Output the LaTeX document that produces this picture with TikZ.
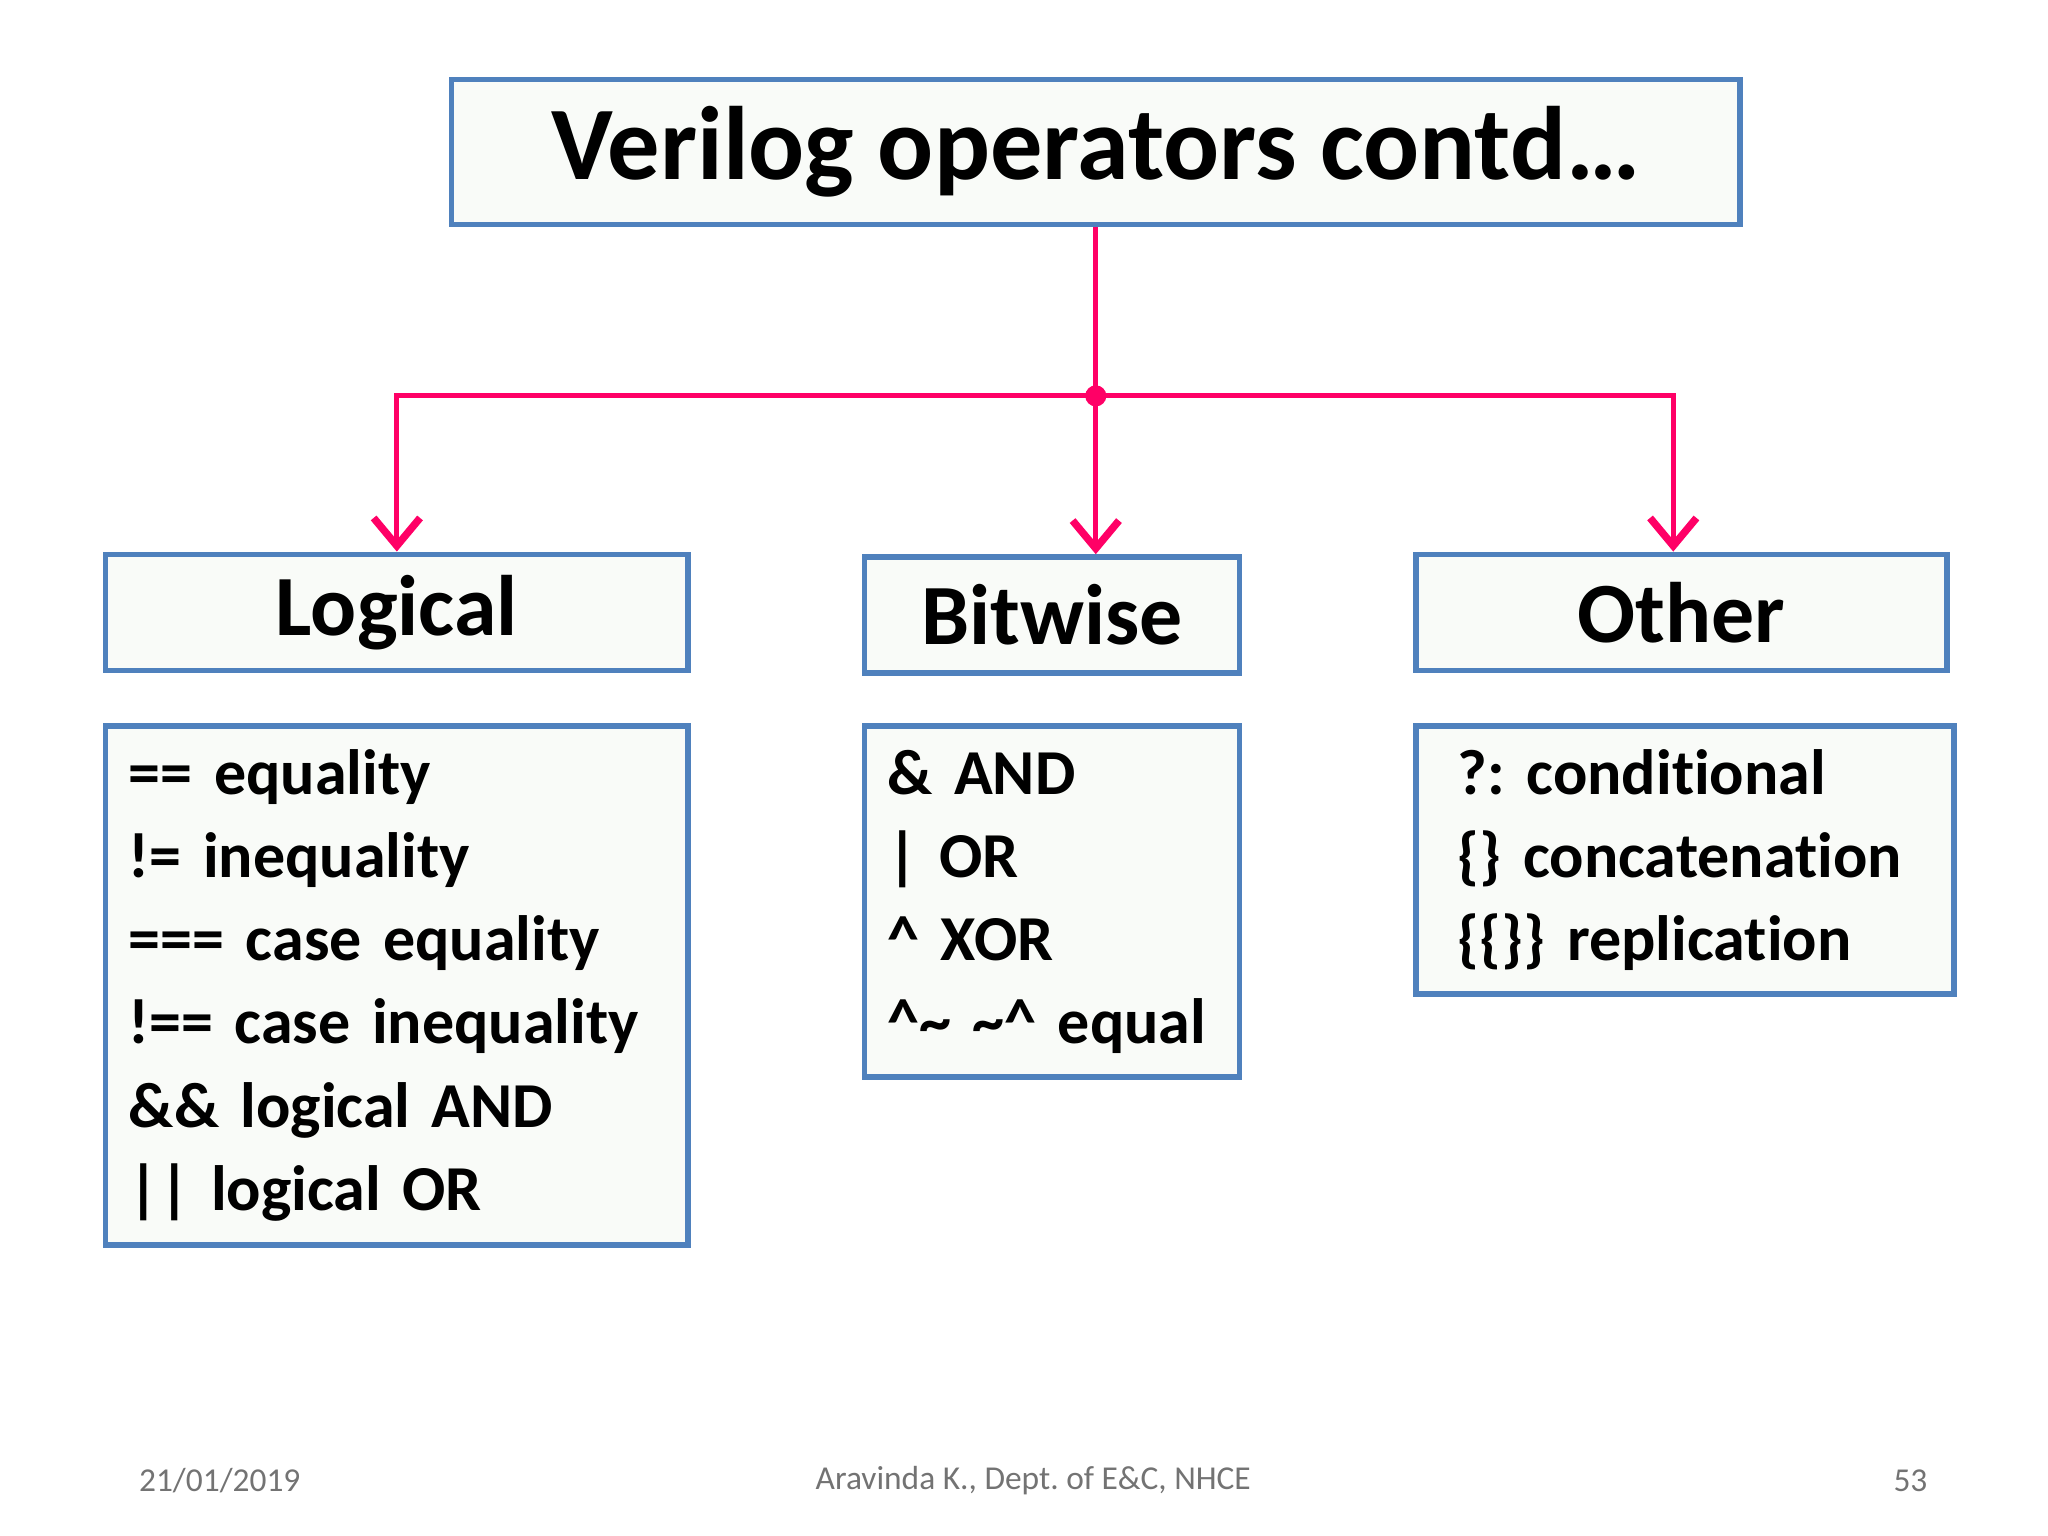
\documentclass[tikz,border=0pt]{standalone}
\usepackage{fontspec}
\setmainfont{Carlito}[Ligatures=NoCommon]
\usetikzlibrary{positioning,arrows.meta}
\definecolor{boxblue}{HTML}{4F81BD}
\definecolor{linkpink}{HTML}{FF0066}
\definecolor{boxfill}{HTML}{F9FBF8}
\tikzset{
  headbox/.style={draw=boxblue, line width=1.2pt, fill=boxfill, anchor=north west, inner sep=0pt, font=\bfseries\fontsize{18.5}{22}\selectfont},
  listbox/.style={draw=boxblue, line width=1.2pt, fill=boxfill, anchor=north west, inner xsep=5pt, inner ysep=0pt, align=left, font=\bfseries\fontsize{13.8}{17.9}\selectfont},
  link/.style={draw=linkpink, line width=1.1pt},
  foot/.style={text=black!55, font=\fontsize{7.2}{9}\selectfont}
}
\begin{document}
\frenchspacing
\begin{tikzpicture}[x=0.01cm, y=-0.01cm]
\useasboundingbox (0,0) rectangle (1552,1164);
\node[headbox, minimum width=9.76cm, minimum height=1.1cm, font=\bfseries\fontsize{22.5}{26}\selectfont] (title) at (340,58) {Verilog operators contd\dots};
% heads
\node[headbox, minimum width=4.41cm, minimum height=0.88cm] (logical) at (78,418) {Logical};
\node[headbox, minimum width=2.84cm, minimum height=0.88cm] (bitwise) at (653,420) {Bitwise};
\node[headbox, minimum width=4.02cm, minimum height=0.88cm] (other) at (1071,418) {Other};
% lists
\node[listbox, minimum height=3.93cm, text width=4.06cm] (loglist) at (78,548) {== equality\\ != inequality\\ === case equality\\ !== case inequality\\ \&\& logical AND\\ || logical OR};
\node[listbox, minimum height=2.66cm, text width=2.49cm] (bitlist) at (653,548) {\& AND\\ | OR\\ \textasciicircum{} XOR\\ \textasciicircum\textasciitilde{} \textasciitilde\textasciicircum{} equal};
\node[listbox, minimum height=2.03cm, text width=3.44cm, inner xsep=9pt] (othlist) at (1071,548) {?: conditional\\ \{\} concatenation\\ \{\{\}\} replication};
% connectors
\coordinate (hub) at (title.south |- 0,300);
\draw[link] (title.south) -- (hub);
\fill[linkpink] (hub) circle (8);
\draw[link, -{Straight Barb[length=6pt,width=10pt,line width=1.6pt]}] (hub) -| (logical.north);
\draw[link, -{Straight Barb[length=6pt,width=10pt,line width=1.6pt]}] (hub) -- (hub |- bitwise.north);
\draw[link, -{Straight Barb[length=6pt,width=10pt,line width=1.6pt]}] (hub) -| (other.north -| 1268,0);
% footer
\node[foot, anchor=west] (date) at (93,1122) {21/01/2019};
\node[foot] (author) at (783,1122) {Aravinda K., Dept. of E\&C, NHCE};
\node[foot, anchor=east] (page) at (1473,1122) {53};
\end{tikzpicture}
\end{document}
